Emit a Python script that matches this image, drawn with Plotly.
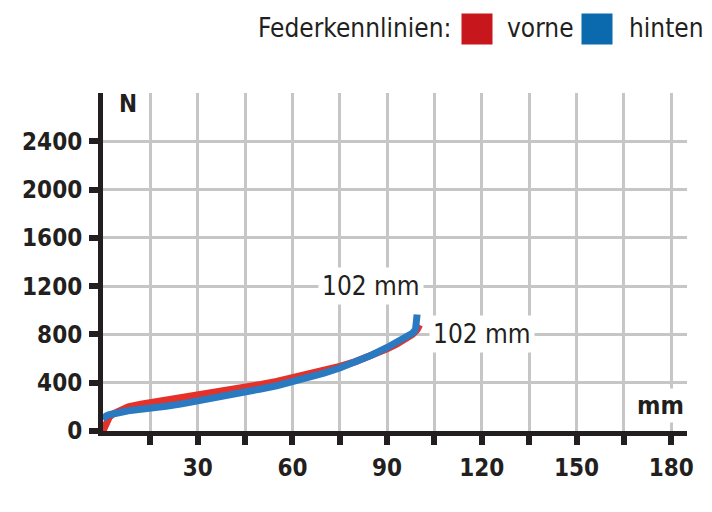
import plotly.graph_objects as go

# ---- data ----
vorne_x = [0, 0.5, 1, 2, 3, 5, 8, 12, 15, 20, 25, 30, 35, 40, 45, 50, 55, 60, 65, 70,
           75, 80, 85, 90, 93, 96, 98, 99.5, 100.3]
vorne_y = [0, 40, 75, 115, 140, 170, 200, 222, 234, 255, 280, 302, 320, 340, 363, 385, 410, 440, 470, 500,
           536, 575, 622, 680, 720, 765, 800, 840, 880]

hinten_x = [0, 0.5, 1, 2, 4, 8, 12, 15, 20, 25, 30, 35, 40, 45, 50, 55, 60, 65, 70,
            75, 80, 85, 90, 93, 96, 98, 99, 99.4, 99.5]
hinten_y = [95, 115, 125, 135, 150, 168, 180, 187, 205, 225, 247, 270, 295, 321, 348, 375, 407, 440, 480,
            522, 570, 628, 692, 732, 778, 810, 840, 900, 965]

x_tickvals = [15, 30, 45, 60, 75, 90, 105, 120, 135, 150, 165, 180]
x_ticktext = ["", "30", "", "60", "", "90", "", "120", "", "150", "", "180"]
y_tickvals = [0, 400, 800, 1200, 1600, 2000, 2400]
y_ticktext = ["0", "400", "800", "1200", "1600", "2000", "2400"]

legend_title = "Federkennlinien:"
series_names = ["vorne", "hinten"]
series_colors = ["#e4322b", "#2a7ac2"]
legend_colors = ["#c8161d", "#0a6aad"]
end_label = "102 mm"

INK = "#231f20"
GRID = "#c6c6c6"
NARROW = "DejaVu Sans Condensed, Liberation Sans Narrow, Roboto Condensed, sans-serif"

fig = go.Figure()
fig.add_trace(go.Scatter(x=vorne_x, y=vorne_y, mode="lines", name=series_names[0],
                         line=dict(color=series_colors[0], width=7), showlegend=False))
fig.add_trace(go.Scatter(x=hinten_x, y=hinten_y, mode="lines", name=series_names[1],
                         line=dict(color=series_colors[1], width=7), showlegend=False))

axis_common = dict(
    showline=True, linecolor=INK, linewidth=5,
    showgrid=True, gridcolor=GRID, gridwidth=3,
    zeroline=False, ticks="outside", ticklen=9, tickwidth=6, tickcolor=INK,
    tickfont=dict(family=NARROW, size=24, color=INK, weight="bold"),
    fixedrange=True, automargin=False,
)
fig.update_xaxes(range=[0, 185], tickmode="array", tickvals=x_tickvals, ticktext=x_ticktext,
                 ticklabelstandoff=2, **axis_common)
fig.update_yaxes(range=[0, 2800], tickmode="array", tickvals=y_tickvals, ticktext=y_ticktext,
                 ticklabelstandoff=2, **axis_common)

# plot area in the photographed page: x 103..687, y 93..431
def px_x(px):
    return (px - 103) / 584.0

def px_y(py):
    return (431 - py) / 338.0

ann = []
# axis unit labels
ann.append(dict(text="N", x=px_x(128), y=px_y(104), xref="paper", yref="paper", showarrow=False,
                xanchor="center", yanchor="middle",
                font=dict(family=NARROW, size=24, color=INK, weight="bold")))
ann.append(dict(text="mm", x=185, y=px_y(405), xref="x", yref="paper", showarrow=False,
                xanchor="right", yanchor="middle", bgcolor="white", borderpad=2,
                font=dict(family=NARROW, size=25, color=INK, weight="bold")))
# end-of-curve labels
ann.append(dict(text=end_label, x=85, y=1200, xref="x", yref="y", showarrow=False,
                xanchor="center", yanchor="middle", bgcolor="white", borderpad=3,
                font=dict(family=NARROW, size=26, color=INK)))
ann.append(dict(text=end_label, x=120, y=800, xref="x", yref="y", showarrow=False,
                xanchor="center", yanchor="middle", bgcolor="white", borderpad=3,
                font=dict(family=NARROW, size=26, color=INK)))
# legend
ann.append(dict(text=legend_title, x=px_x(453), y=px_y(28), xref="paper", yref="paper", showarrow=False,
                xanchor="right", yanchor="middle",
                font=dict(family=NARROW, size=26, color=INK)))
ann.append(dict(text=" ", x=px_x(477), y=px_y(28.5), xref="paper", yref="paper", showarrow=False,
                xanchor="center", yanchor="middle", width=30, height=30, borderpad=0,
                bgcolor=legend_colors[0], font=dict(size=10)))
ann.append(dict(text=series_names[0], x=px_x(505), y=px_y(28), xref="paper", yref="paper", showarrow=False,
                xanchor="left", yanchor="middle",
                font=dict(family=NARROW, size=26, color=INK)))
ann.append(dict(text=" ", x=px_x(597), y=px_y(28.5), xref="paper", yref="paper", showarrow=False,
                xanchor="center", yanchor="middle", width=30, height=30, borderpad=0,
                bgcolor=legend_colors[1], font=dict(size=10)))
ann.append(dict(text=series_names[1], x=px_x(627), y=px_y(28), xref="paper", yref="paper", showarrow=False,
                xanchor="left", yanchor="middle",
                font=dict(family=NARROW, size=26, color=INK)))

fig.update_layout(
    width=712, height=512,
    margin=dict(l=95, r=33, t=85, b=89),
    paper_bgcolor="white", plot_bgcolor="white",
    annotations=ann,
    showlegend=False,
)

fig.write_html("out.html")
